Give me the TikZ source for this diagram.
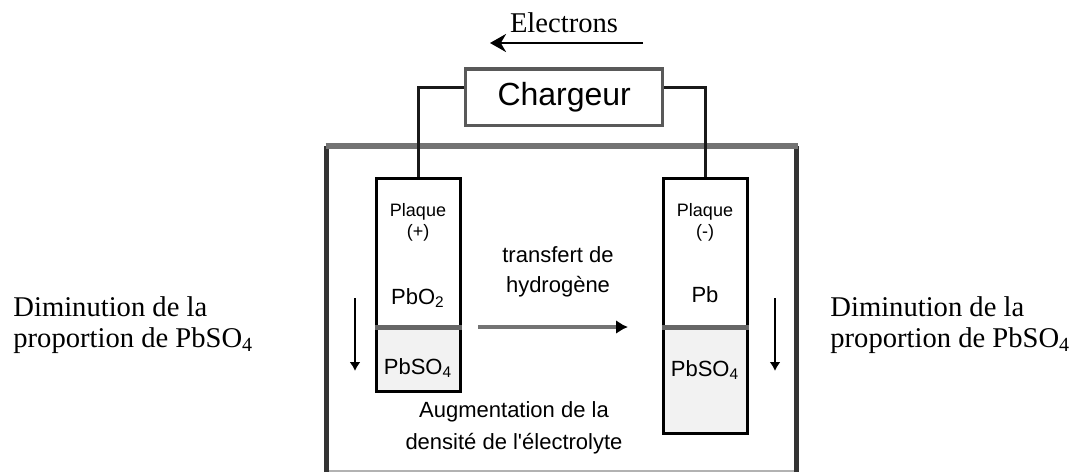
\documentclass[tikz,border=0pt]{standalone}
\usepackage{fontspec}
\setmainfont{Liberation Serif}
\newfontfamily\schema{Liberation Sans}
\usetikzlibrary{positioning, arrows.meta}

\begin{document}
\begin{tikzpicture}[x=0.5pt, y=-0.5pt,
    plaque/.style={draw=black, line width=1.5pt, minimum width=42pt, inner sep=0pt},
    fil/.style={black!90, line width=1.5pt},
    chute/.style={-{Latex[length=4.5pt,width=5.5pt]}, line width=1.2pt},
    petit/.style={font=\schema\fontsize{9}{10}\selectfont},
    moyen/.style={font=\schema\fontsize{11}{15}\selectfont, align=center},
    serif/.style={font=\fontsize{14.3}{15.5}\selectfont}]
    \useasboundingbox (0,0) rectangle (1080,472);
    % Bac de la batterie
    \draw[black!30, line width=1pt] (326.7,470.5) -- (796.7,470.5);
    \draw[black!80, line width=2.5pt] (326.7,472) -- (326.7,145.7);
    \draw[black!80, line width=2.5pt] (796.7,472) -- (796.7,145.7);
    \draw[black!55, line width=3pt] (325.5,145.7) -- (797.9,145.7);
    % Parties sulfatees des plaques
    \fill[gray!10] (376.5,327) rectangle (460,391.5);
    \fill[gray!10] (663,327) rectangle (747,433.7);
    % Plaques
    \node[plaque, minimum height=106.75pt] (plaqueP) at (418.25,284.75) {};
    \node[plaque, minimum height=127.8pt] (plaqueN) at (705,305.8) {};
    \coordinate (separation) at (0,327);
    \draw[black!60, line width=2.5pt] (plaqueP.west |- separation) -- (plaqueP.east |- separation);
    \draw[black!60, line width=2.5pt] (plaqueN.west |- separation) -- (plaqueN.east |- separation);
    % Textes des plaques
    \node[petit] (plaqueP1) at (418,212) {Plaque};
    \node[petit] (signeP) at (418,233) {(+)};
    \node[moyen] (oxyde) at (418,298) {PbO\textsubscript{2}};
    \node[moyen] (sulfateP) at (418,368) {PbSO\textsubscript{4}};
    \node[petit] (plaqueN1) at (705,212) {Plaque};
    \node[petit] (signeN) at (705,233) {(-)};
    \node[moyen] (plomb) at (705,295) {Pb};
    \node[moyen] (sulfateN) at (705,370) {PbSO\textsubscript{4}};
    % Chargeur et fils
    \node[draw=black!65, line width=1.7pt, minimum width=98.5pt, minimum height=28.3pt,
          font=\schema\fontsize{16}{18}\selectfont] (chargeur) at (564.2,97.3) {Chargeur};
    \coordinate (niveauFil) at (0,87.3);
    \draw[fil] (plaqueP.north) |- (chargeur.west |- niveauFil);
    \draw[fil] (plaqueN.north) |- (chargeur.east |- niveauFil);
    % Sens des electrons
    \node[serif, anchor=base] (electrons) at (564,32) {Electrons};
    \coordinate (electronsD) at (643,43);
    \coordinate (electronsG) at (490,43);
    \draw[line width=1.3pt, -{Stealth[length=8pt,width=9pt]}] (electronsD) -- (electronsG);
    % Transfert d'hydrogene
    \node[moyen] (transfert) at (558,272) {transfert de\\hydrogène};
    \coordinate (transfertG) at (478,327);
    \coordinate (transfertD) at (628,327);
    \draw[black!55, line width=2pt, -{Latex[length=6pt,width=7pt,black]}] (transfertG) -- (transfertD);
    \node[moyen, font=\schema\fontsize{11}{16}\selectfont] (densite) at (514,428) {Augmentation de la\\densité de l'électrolyte};
    % Diminution du sulfate
    \coordinate (chuteGh) at (355,298);
    \coordinate (chuteGb) at (355,371);
    \coordinate (chuteDh) at (775,298);
    \coordinate (chuteDb) at (775,371);
    \draw[chute] (chuteGh) -- (chuteGb);
    \draw[chute] (chuteDh) -- (chuteDb);
    \node[serif, align=left, anchor=west, inner sep=0pt] (diminutionG) at (13,325) {Diminution de la\\proportion de PbSO\textsubscript{4}};
    \node[serif, align=left, anchor=west, inner sep=0pt] (diminutionD) at (830,325) {Diminution de la\\proportion de PbSO\textsubscript{4}};
\end{tikzpicture}
\end{document}
